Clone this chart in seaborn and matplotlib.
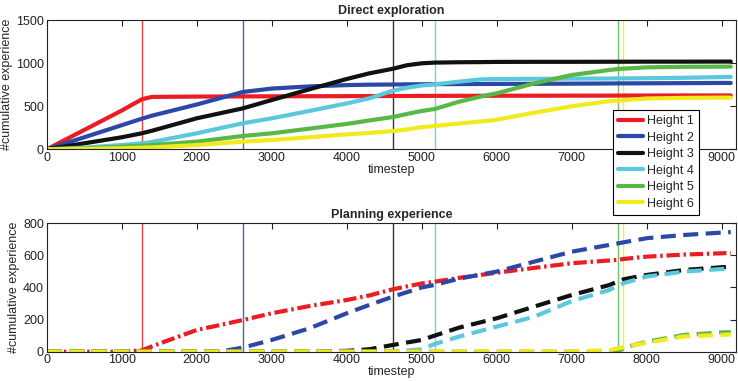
import numpy as np
import pandas as pd
import matplotlib
matplotlib.use("Agg")
import matplotlib.pyplot as plt
import seaborn as sns

# series names and colours
labels = ["Height 1", "Height 2", "Height 3", "Height 4", "Height 5", "Height 6"]
colors = ["#ec1c24", "#2b48a6", "#111111", "#5cc8dc", "#58b847", "#f2ea1e"]

# timestep where each height switches (vertical lines)
switch_steps = [1267, 2613, 4617, 5173, 7618, 7684]

# direct exploration
t_direct = [0, 500, 1000, 1267, 1400, 2000, 2613, 3000, 3500, 4000, 4300, 4617, 4800,
            5000, 5173, 5500, 5800, 6000, 6500, 7000, 7500, 7618, 8000, 8500, 9000, 9120]
direct_h1 = [0, 225, 450, 580, 608, 612, 614, 615, 616, 617, 618, 619, 619,
             620, 620, 621, 621, 622, 622, 623, 623, 624, 624, 625, 625, 625]
direct_h2 = [0, 140, 280, 355, 390, 520, 665, 705, 730, 745, 750, 752, 754,
             755, 756, 757, 758, 759, 760, 762, 764, 765, 766, 768, 770, 770]
direct_h3 = [0, 70, 140, 186, 215, 360, 475, 572, 696, 816, 881, 935, 975,
             998, 1006, 1010, 1012, 1014, 1015, 1015, 1016, 1016, 1017, 1017, 1018, 1018]
direct_h4 = [0, 20, 50, 70, 85, 186, 302, 360, 445, 533, 591, 680, 715,
             740, 754, 785, 812, 815, 818, 820, 822, 823, 825, 830, 838, 840]
direct_h5 = [0, 10, 30, 42, 50, 89, 155, 186, 240, 295, 335, 375, 410,
             445, 468, 553, 615, 650, 765, 862, 920, 932, 951, 957, 959, 960]
direct_h6 = [0, 5, 12, 19, 22, 50, 89, 108, 140, 174, 190, 213, 230,
             258, 271, 300, 325, 344, 425, 500, 558, 566, 590, 597, 600, 600]

# planning experience
t_plan = [0, 500, 1000, 1267, 1500, 2000, 2300, 2613, 3000, 3500, 4000, 4300, 4617,
          5000, 5173, 5500, 6000, 6500, 7000, 7500, 7618, 7700, 8000, 8500, 9000, 9120]
plan_h1 = [0, 0, 0, 8, 50, 135, 165, 197, 239, 284, 322, 350, 389,
           425, 436, 460, 492, 522, 551, 568, 572, 578, 592, 605, 613, 615]
plan_h2 = [0, 0, 0, 0, 0, 0, 0, 25, 73, 145, 239, 291, 343,
           400, 416, 455, 499, 561, 623, 665, 675, 682, 707, 727, 742, 745]
plan_h3 = [0, 0, 0, 0, 0, 0, 0, 0, 0, 0, 5, 15, 42,
           73, 100, 150, 208, 281, 353, 415, 438, 452, 478, 509, 526, 528]
plan_h4 = [0, 0, 0, 0, 0, 0, 0, 0, 0, 0, 0, 0, 0,
           15, 48, 94, 156, 218, 315, 384, 412, 428, 468, 499, 515, 518]
plan_h5 = [0, 0, 0, 0, 0, 0, 0, 0, 0, 0, 0, 0, 0,
           0, 0, 0, 0, 0, 0, 0, 0, 25, 62, 104, 120, 122]
plan_h6 = [0, 0, 0, 0, 0, 0, 0, 0, 0, 0, 0, 0, 0,
           0, 0, 0, 0, 0, 0, 10, 20, 28, 56, 95, 105, 107]

direct = [direct_h1, direct_h2, direct_h3, direct_h4, direct_h5, direct_h6]
plan = [plan_h1, plan_h2, plan_h3, plan_h4, plan_h5, plan_h6]

sns.set_theme(style="white")
plt.rcParams["font.family"] = ["Liberation Sans", "DejaVu Sans"]
plt.rcParams["font.size"] = 9

fig = plt.figure(figsize=(7.38, 3.81), dpi=100)
ax1 = fig.add_axes([0.0633, 0.608, 0.934, 0.3395])
ax2 = fig.add_axes([0.0633, 0.077, 0.934, 0.337])

df_direct = pd.DataFrame({"timestep": t_direct})
df_plan = pd.DataFrame({"timestep": t_plan})
for lab, d, p in zip(labels, direct, plan):
    df_direct[lab] = d
    df_plan[lab] = p

#TOP PANEL
for lab, c in zip(labels, colors):
    sns.lineplot(data=df_direct, x="timestep", y=lab, color=c, lw=3, ax=ax1, label=lab)

#BOTTOM PANEL - red dash-dot, rest dashed
for i, (lab, c) in enumerate(zip(labels, colors)):
    line = sns.lineplot(data=df_plan, x="timestep", y=lab, color=c, lw=3, ax=ax2).lines[-1]
    if i == 0:
        line.set_dashes([3.2, 0.9, 0.6, 0.9])
    else:
        line.set_dashes([3.6, 1.8])

for ax in (ax1, ax2):
    for s, c in zip(switch_steps, colors):
        ax.axvline(s, color=c, lw=1, alpha=0.85, zorder=1)
    ax.set_xlim(0, 9190)
    ax.set_xticks(np.arange(0, 9001, 1000))
    ax.tick_params(direction="in", top=True, right=True, length=4, width=0.8,
                   labelsize=9, pad=2, colors="#222222")
    for sp in ax.spines.values():
        sp.set_color("#222222")
        sp.set_linewidth(0.8)
    ax.set_xlabel("timestep", fontsize=9, labelpad=0)
    ax.set_ylabel("#cumulative experience", fontsize=9, labelpad=2)

ax1.set_ylim(0, 1500)
ax1.set_yticks([0, 500, 1000, 1500])
ax2.set_ylim(0, 800)
ax2.set_yticks([0, 200, 400, 600, 800])
ax1.set_title("Direct exploration", fontsize=9, fontweight="bold", pad=4)
ax2.set_title("Planning experience", fontsize=9, fontweight="bold", pad=4)

# legend sits over the 8000 tick label, like the original
handles, labs = ax1.get_legend_handles_labels()
ax1.legend_.remove()
leg = fig.legend(handles, labs, loc="upper left", bbox_to_anchor=(0.830, 0.711),
                 fontsize=9, frameon=True, fancybox=False, edgecolor="black",
                 framealpha=1, handlelength=2.0, handletextpad=0.35,
                 labelspacing=0.36, borderpad=0.4, borderaxespad=0)
leg.get_frame().set_linewidth(0.8)
leg.set_zorder(10)

fig.savefig("out.png", dpi=100)
